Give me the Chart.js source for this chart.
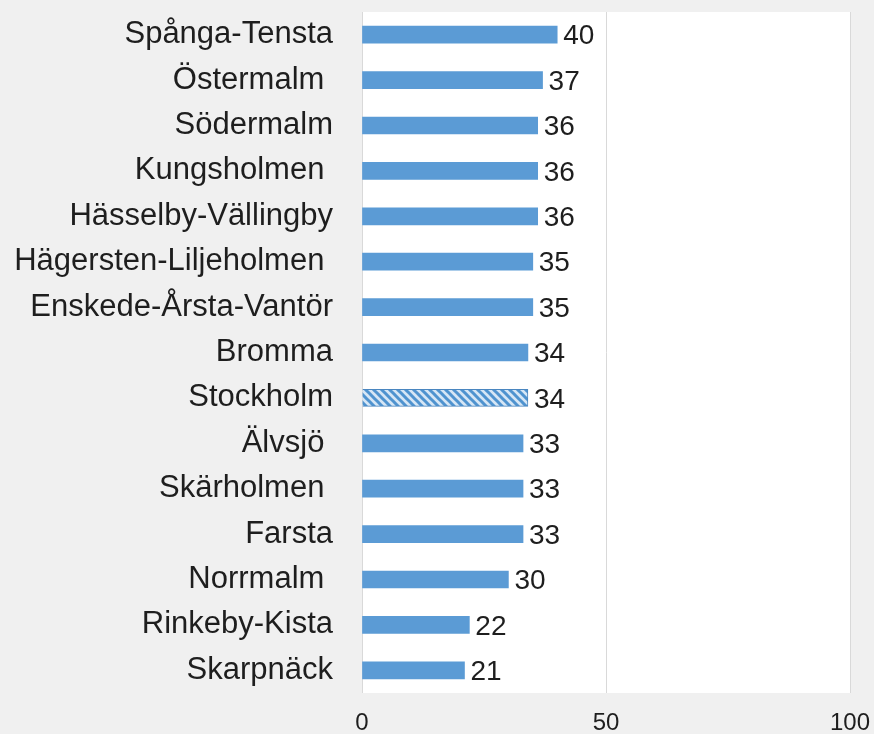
<!DOCTYPE html>
<html>
<head>
<meta charset="utf-8">
<script src="https://cdn.jsdelivr.net/npm/chart.js@4.4.1/dist/chart.umd.min.js"></script>
<style>
  html, body { margin: 0; padding: 0; background: #f0f0f0; }
  #wrap { width: 874px; height: 734px; position: relative; }
</style>
</head>
<body>
<div id="wrap"><canvas id="c" width="874" height="734"></canvas></div>
<script>
const categories = [
  "Spånga-Tensta", "Östermalm ", "Södermalm", "Kungsholmen ", "Hässelby-Vällingby",
  "Hägersten-Liljeholmen ", "Enskede-Årsta-Vantör", "Bromma", "Stockholm", "Älvsjö ",
  "Skärholmen ", "Farsta", "Norrmalm ", "Rinkeby-Kista", "Skarpnäck"
];
const values = [40, 37, 36, 36, 36, 35, 35, 34, 34, 33, 33, 33, 30, 22, 21];
const highlighted = "Stockholm";
const xTicks = [0, 50, 100];

const FONT = "'Liberation Sans', Arial, sans-serif";
const BLUE = "#5b9bd5";

function hatchPattern() {
  const s = 8;
  const pc = document.createElement("canvas");
  pc.width = s; pc.height = s;
  const g = pc.getContext("2d");
  g.fillStyle = "#d6e6f5";
  g.fillRect(0, 0, s, s);
  g.strokeStyle = "#4f93cf";
  g.lineWidth = 3;
  g.beginPath();
  g.moveTo(-s, 0); g.lineTo(s, 2 * s);
  g.moveTo(0, 0); g.lineTo(s, s);
  g.moveTo(0, -s); g.lineTo(2 * s, s);
  g.stroke();
  return document.getElementById("c").getContext("2d").createPattern(pc, "repeat");
}
const pattern = hatchPattern();

const plotBg = {
  id: "plotBg",
  beforeDraw(chart) {
    const { ctx, chartArea: a } = chart;
    ctx.save();
    ctx.fillStyle = "#ffffff";
    ctx.fillRect(a.left, a.top, a.right - a.left, a.bottom - a.top);
    ctx.restore();
  }
};

const valueLabels = {
  id: "valueLabels",
  afterDatasetsDraw(chart) {
    const { ctx } = chart;
    const meta = chart.getDatasetMeta(0);
    ctx.save();
    ctx.font = "28px " + FONT;
    ctx.fillStyle = "#1e1e1e";
    ctx.textAlign = "left";
    ctx.textBaseline = "middle";
    meta.data.forEach((bar, i) => {
      ctx.fillText(String(values[i]), bar.x + 6, bar.y + 2);
    });
    ctx.restore();
  }
};

new Chart(document.getElementById("c"), {
  type: "bar",
  data: {
    labels: categories,
    datasets: [{
      data: values,
      backgroundColor: categories.map(c => c === highlighted ? pattern : BLUE),
      borderColor: categories.map(c => c === highlighted ? "#4a86c0" : BLUE),
      borderWidth: categories.map(c => c === highlighted ? 1 : 0),
      barThickness: 17
    }]
  },
  options: {
    indexAxis: "y",
    responsive: false,
    animation: false,
    layout: { padding: { top: 12, right: 24, left: 0, bottom: 0 } },
    plugins: { legend: { display: false }, tooltip: { enabled: false } },
    scales: {
      x: {
        min: 0, max: 100,
        afterBuildTicks(scale) { scale.ticks = xTicks.map(v => ({ value: v })); },
        afterFit(scale) {
          scale.height = 41;
          scale.paddingLeft = 0; scale.paddingRight = 0;
          scale.paddingTop = 0; scale.paddingBottom = 0;
        },
        grid: { color: "#d9d9d9", drawTicks: false, lineWidth: 1 },
        border: { display: false },
        ticks: { padding: 16, color: "#1e1e1e", font: { family: FONT, size: 24 } }
      },
      y: {
        afterFit(scale) {
          scale.width = 362;
          scale.paddingLeft = 0; scale.paddingRight = 0;
          scale.paddingTop = 0; scale.paddingBottom = 0;
        },
        grid: { display: false, drawTicks: false },
        border: { display: false },
        ticks: { padding: 29, color: "#1e1e1e", font: { family: FONT, size: 31 } }
      }
    }
  },
  plugins: [plotBg, valueLabels]
});
</script>
</body>
</html>
